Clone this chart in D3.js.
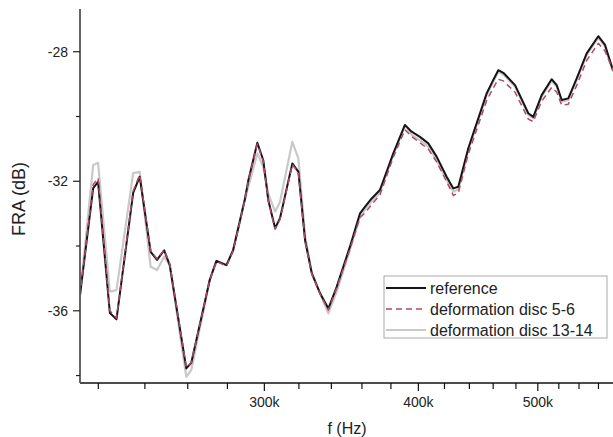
<!DOCTYPE html>
<html>
<head>
<meta charset="utf-8">
<script src="https://cdn.jsdelivr.net/npm/d3@7"></script>
<style>
  html, body { margin: 0; padding: 0; background: #fff; }
  svg { display: block; font-family: "Liberation Sans", Arial, sans-serif; }
</style>
</head>
<body>
<div id="chart"></div>
<script>
const width = 613, height = 437;

// frequency in kHz
const freqKHz = [212.6, 217.9, 219.9, 224.8, 227.6, 234.8, 237.7, 242.6, 245.5, 248.8,
  251.4, 259.3, 261.7, 270.9, 274.3, 279.5, 283.0, 289.2, 291.2, 296.1,
  299.4, 302.2, 306.1, 308.9, 316.1, 319.7, 323.7, 327.8, 332.9, 338.1,
  343.4, 352.0, 358.7, 362.0, 366.6, 372.3, 381.7, 390.1, 395.0, 401.2,
  407.5, 413.9, 421.7, 427.0, 431.0, 439.1, 454.5, 460.1, 464.4, 468.8,
  479.2, 491.2, 495.8, 503.6, 513.1, 518.0, 522.8, 529.3, 537.7, 547.8,
  559.8, 566.9, 575.4];

const referenceDb = [-35.52, -32.21, -32.02, -36.07, -36.26, -32.36, -31.86, -34.18, -34.43, -34.13,
  -34.59, -37.78, -37.61, -35.05, -34.46, -34.59, -34.13, -32.58, -31.96, -30.81,
  -31.35, -32.58, -33.45, -33.14, -31.45, -31.71, -33.82, -34.84, -35.46, -35.93,
  -35.26, -34.02, -32.99, -32.79, -32.53, -32.27, -31.14, -30.26, -30.47, -30.63,
  -30.83, -31.24, -31.86, -32.22, -32.17, -30.98, -29.28, -28.87, -28.57, -28.65,
  -29.03, -29.90, -30.01, -29.34, -28.85, -29.03, -29.49, -29.44, -28.82, -28.05,
  -27.52, -27.79, -28.57];

const disc56Db = [-35.52, -32.10, -31.90, -36.00, -36.22, -32.30, -31.80, -34.15, -34.40, -34.12,
  -34.55, -37.75, -37.60, -35.05, -34.48, -34.62, -34.15, -32.60, -31.98, -30.85,
  -31.38, -32.60, -33.48, -33.18, -31.48, -31.74, -33.85, -34.86, -35.48, -35.98,
  -35.30, -34.10, -33.12, -32.98, -32.72, -32.42, -31.26, -30.41, -30.62, -30.81,
  -31.01, -31.40, -32.01, -32.44, -32.36, -31.16, -29.50, -29.12, -28.85, -28.90,
  -29.25, -30.08, -30.16, -29.53, -29.10, -29.25, -29.65, -29.62, -29.04, -28.27,
  -27.74, -27.98, -28.57];

const disc1314Db = [-35.52, -31.50, -31.43, -35.41, -35.36, -31.75, -31.71, -34.64, -34.74, -34.33,
  -34.59, -38.04, -37.83, -35.05, -34.46, -34.59, -34.13, -32.58, -32.16, -31.14,
  -31.55, -32.38, -32.94, -32.64, -30.78, -31.30, -33.67, -34.84, -35.46, -36.08,
  -35.41, -34.12, -33.09, -32.88, -32.62, -32.35, -31.18, -30.28, -30.57, -30.73,
  -30.93, -31.34, -31.96, -32.32, -32.25, -31.04, -29.34, -28.93, -28.62, -28.70,
  -29.08, -29.95, -30.06, -29.39, -28.90, -29.08, -29.54, -29.49, -28.87, -28.10,
  -27.57, -27.84, -28.62];

const xTicks = [220, 240, 260, 280, 300, 320, 340, 360, 380, 400, 420, 440, 460, 480, 500, 520, 540, 560];
const xLabelTicks = [300, 400, 500];
const yMajorTicks = [-28, -32, -36];
const yMinorTicks = [-30, -34, -38];

const legendLabels = ["reference", "deformation disc 5-6", "deformation disc 13-14"];

const plot = { left: 80, right: 613, top: 9, bottom: 383 };

const svg = d3.select("#chart").append("svg")
    .attr("width", width)
    .attr("height", height);

const x = d3.scaleLog()
    .domain([212.6, 575.4])
    .range([plot.left, plot.right]);

const y = d3.scaleLinear()
    .domain([-38.23, -26.68])
    .range([plot.bottom, plot.top]);

svg.append("clipPath").attr("id", "clip")
  .append("rect")
    .attr("x", plot.left).attr("y", plot.top)
    .attr("width", plot.right - plot.left)
    .attr("height", plot.bottom - plot.top);

const series = [
  { values: disc1314Db, color: "#c9c9c9", width: 2.2, dash: null },
  { values: referenceDb, color: "#151515", width: 2, dash: null },
  { values: disc56Db, color: "#b24a66", width: 1.5, dash: "6,4" }
];

const line = d3.line()
    .x((d, i) => x(freqKHz[i]))
    .y(d => y(d));

const lines = svg.append("g").attr("clip-path", "url(#clip)");
series.forEach(s => {
  lines.append("path")
      .datum(s.values)
      .attr("fill", "none")
      .attr("stroke", s.color)
      .attr("stroke-width", s.width)
      .attr("stroke-linejoin", "round")
      .attr("stroke-dasharray", s.dash)
      .attr("d", line);
});

// x axis
const xAxis = svg.append("g").attr("transform", `translate(0,${plot.bottom})`);
xAxis.append("line")
    .attr("x1", plot.left).attr("x2", plot.right)
    .attr("stroke", "#111").attr("stroke-width", 1.3);
xAxis.selectAll(".xtick")
  .data(xTicks)
  .join("line")
    .attr("x1", d => x(d)).attr("x2", d => x(d))
    .attr("y1", 0)
    .attr("y2", d => xLabelTicks.includes(d) ? 8 : 6)
    .attr("stroke", "#111").attr("stroke-width", 1.2);
xAxis.selectAll(".xlabel")
  .data(xLabelTicks)
  .join("text")
    .attr("x", d => x(d))
    .attr("y", 24)
    .attr("text-anchor", "middle")
    .attr("font-size", 14)
    .attr("fill", "#222")
    .text(d => d + "k");

svg.append("text")
    .attr("x", 347).attr("y", 434)
    .attr("text-anchor", "middle")
    .attr("font-size", 16)
    .attr("fill", "#222")
    .text("f (Hz)");

// y axis
const yAxis = svg.append("g").attr("transform", `translate(${plot.left},0)`);
yAxis.append("line")
    .attr("y1", plot.top).attr("y2", plot.bottom)
    .attr("stroke", "#555").attr("stroke-width", 1.8);
yAxis.selectAll(".ymajor")
  .data(yMajorTicks)
  .join("line")
    .attr("x1", -7).attr("x2", 0)
    .attr("y1", d => y(d)).attr("y2", d => y(d))
    .attr("stroke", "#222").attr("stroke-width", 1.2);
yAxis.selectAll(".yminor")
  .data(yMinorTicks)
  .join("line")
    .attr("x1", -4).attr("x2", 0)
    .attr("y1", d => y(d)).attr("y2", d => y(d))
    .attr("stroke", "#222").attr("stroke-width", 1.2);
yAxis.selectAll(".ylabel")
  .data(yMajorTicks)
  .join("text")
    .attr("x", -12)
    .attr("y", d => y(d) + 5)
    .attr("text-anchor", "end")
    .attr("font-size", 14)
    .attr("fill", "#222")
    .text(d => d);

svg.append("text")
    .attr("transform", "translate(25,199) rotate(-90)")
    .attr("text-anchor", "middle")
    .attr("font-size", 18)
    .attr("fill", "#222")
    .text("FRA (dB)");

// legend
const legend = svg.append("g").attr("transform", "translate(384,276)");
legend.append("rect")
    .attr("width", 223).attr("height", 62)
    .attr("fill", "#fff")
    .attr("stroke", "#aaa").attr("stroke-width", 1);

const legendStyles = [series[1], series[2], series[0]];
legendLabels.forEach((label, i) => {
  const cy = 12 + i * 21;
  legend.append("line")
      .attr("x1", 2).attr("x2", 42)
      .attr("y1", cy).attr("y2", cy)
      .attr("stroke", legendStyles[i].color)
      .attr("stroke-width", legendStyles[i].width)
      .attr("stroke-dasharray", legendStyles[i].dash);
  legend.append("text")
      .attr("x", 46).attr("y", cy + 5.5)
      .attr("font-size", 16)
      .attr("fill", "#222")
      .text(label);
});
</script>
</body>
</html>
